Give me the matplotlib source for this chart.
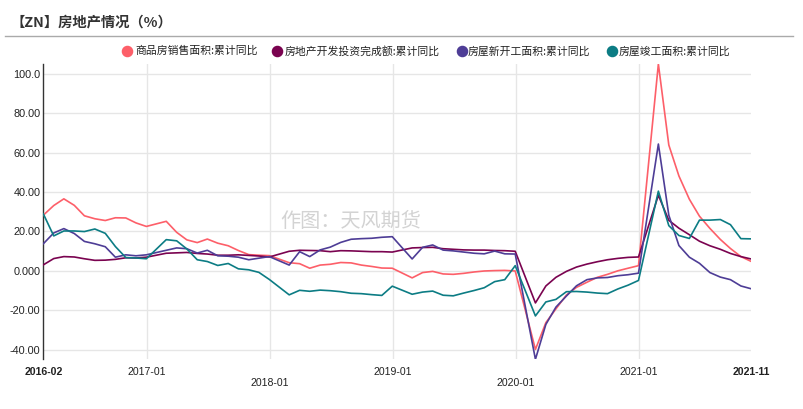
import matplotlib
matplotlib.use('Agg')
import matplotlib.pyplot as plt
import pandas as pd
from matplotlib.lines import Line2D

# ---------------- data ----------------
dates = [pd.Timestamp(y, m, 1) + pd.offsets.MonthEnd(0)
         for y in range(2016, 2022) for m in range(2, 13)
         if not (y == 2021 and m == 12)]

series_names = ['商品房销售面积:累计同比', '房地产开发投资完成额:累计同比',
                '房屋新开工面积:累计同比', '房屋竣工面积:累计同比']

sales = [28.2, 33.1, 36.5, 33.2, 27.9, 26.4, 25.5, 26.9, 26.8, 24.3, 22.5,
         25.1, 19.5, 15.7, 14.3, 16.1, 14.0, 12.7, 10.3, 8.2, 7.9, 7.7,
         4.1, 3.6, 1.3, 2.9, 3.3, 4.2, 4.0, 2.9, 2.2, 1.4, 1.3,
         -3.6, -0.9, -0.3, -1.6, -1.8, -1.3, -0.6, -0.1, 0.1, 0.2, -0.1,
         -39.9, -26.3, -19.3, -12.3, -8.4, -5.8, -3.3, -1.8, 0.0, 1.3, 2.6,
         104.9, 63.8, 48.1, 36.3, 27.7, 21.5, 15.9, 11.3, 7.2, 4.8]

invest = [3.0, 6.2, 7.2, 7.0, 6.1, 5.3, 5.4, 5.8, 6.6, 6.5, 6.9,
          8.9, 9.1, 9.3, 8.8, 8.5, 7.9, 7.9, 8.1, 7.8, 7.5, 7.0,
          9.9, 10.4, 10.3, 10.2, 9.7, 10.2, 10.1, 9.9, 9.7, 9.7, 9.5,
          11.6, 11.8, 11.9, 11.2, 10.9, 10.6, 10.5, 10.5, 10.3, 10.2, 9.9,
          -16.3, -7.7, -3.3, -0.3, 1.9, 3.4, 4.6, 5.6, 6.3, 6.8, 7.0,
          38.3, 25.6, 21.6, 18.3, 15.0, 12.7, 10.9, 8.8, 7.2, 6.0]

newstart = [13.7, 19.2, 21.4, 18.9, 14.9, 13.7, 12.2, 6.9, 8.1, 7.6, 8.1,
            10.4, 11.6, 11.2, 9.0, 10.4, 7.6, 7.4, 6.9, 5.6, 6.4, 7.2,
            2.9, 9.7, 7.2, 10.6, 12.0, 14.4, 16.0, 16.3, 16.5, 17.0, 17.3,
            6.0, 11.9, 13.1, 10.5, 10.1, 9.5, 8.9, 8.6, 10.0, 8.6, 8.5,
            -44.9, -27.2, -18.4, -12.8, -7.6, -4.5, -3.6, -3.4, -2.5, -2.0, -1.2,
            64.3, 28.2, 12.8, 6.9, 3.8, -0.9, -3.2, -4.5, -7.7, -9.1]

completion = [28.9, 17.7, 20.2, 20.2, 19.9, 21.2, 19.0, 12.3, 6.7, 6.5, 6.1,
              15.8, 15.2, 11.1, 5.6, 4.7, 2.7, 3.7, 1.0, 0.5, -0.8, -4.4,
              -12.2, -9.9, -10.4, -9.8, -10.1, -10.6, -11.4, -11.6, -12.1, -12.5, -7.8,
              -11.9, -10.8, -10.3, -12.4, -12.7, -11.3, -10.0, -8.6, -5.5, -4.5, 2.6,
              -22.9, -15.8, -14.5, -10.6, -10.5, -10.8, -11.3, -11.6, -9.2, -7.3, -4.9,
              40.4, 22.9, 17.9, 16.4, 25.7, 25.7, 26.0, 23.4, 16.3, 16.2]

y_ticks = [-40, -20, 0, 20, 40, 60, 80, 100]
y_tick_labels = ['-40.00', '-20.00', '0.000', '20.00', '40.00', '60.00', '80.00', '100.0']
year_ticks = [pd.Timestamp(y, 1, 1) for y in range(2017, 2022)]
year_labels = ['2017-01', '2018-01', '2019-01', '2020-01', '2021-01']
edge_labels = ['2016-02', '2021-11']

colors = ['#fd5f69', '#7a0350', '#4e3d96', '#0c7c84']
values = [sales, invest, newstart, completion]

# ---------------- figure ----------------
W, H = 804, 409
fig = plt.figure(figsize=(W / 100, H / 100), dpi=100)
fig.patch.set_facecolor('white')

left, right, top, bottom = 43.3, 751, 64, 359.3
ax = fig.add_axes([left / W, 1 - bottom / H, (right - left) / W, (bottom - top) / H])

num_font = ['Liberation Sans', 'DejaVu Sans']
cjk_font = ['Noto Sans CJK SC', 'DejaVu Sans']

for vals, c in zip(values, colors):
    ax.plot(dates, vals, color=c, lw=1.2, zorder=3, solid_joinstyle='round')

ax.set_xlim(dates[0], dates[-1])
ax.set_ylim(-44.9, 104.9)

for s in ['top', 'right', 'bottom']:
    ax.spines[s].set_visible(False)
ax.spines['left'].set_color('#333333')
ax.spines['left'].set_linewidth(1.0)

ax.set_yticks(y_ticks)
ax.set_yticklabels(y_tick_labels, fontfamily=num_font, fontsize=7.8, color='#222222')
ax.tick_params(axis='y', length=0, pad=2)
ax.yaxis.grid(True, color='#e6e6e6', lw=1, zorder=0)
ax.set_axisbelow(True)

for d in year_ticks:
    ax.axvline(d, color='#e6e6e6', lw=1, zorder=0.5)

xt = [dates[0]] + year_ticks + [dates[-1]]
xl = [edge_labels[0]] + year_labels + [edge_labels[1]]
ax.set_xticks(xt)
ax.set_xticklabels(xl, fontfamily=num_font, fontsize=7.6, color='#222222')
ax.tick_params(axis='x', length=0)
for i, t in enumerate(ax.xaxis.get_major_ticks()):
    if i in (0, len(xt) - 1):
        t.label1.set_fontweight('bold')
        t.set_pad(5.5)
    elif i % 2 == 0:
        t.set_pad(13.5)
    else:
        t.set_pad(5.5)

# title and separator
fig.text(11 / W, 1 - 22 / H, '【ZN】房地产情况（%）', fontfamily=cjk_font,
         fontsize=10.3, fontweight='bold', color='#333333', va='center', ha='left')
fig.add_artist(Line2D([5 / W, 793 / W], [1 - 35.5 / H, 1 - 35.5 / H],
                      transform=fig.transFigure, color='#aaaaaa', lw=1))

# legend
leg_pos = [(127, 135), (277, 285), (461.7, 468), (612.3, 619)]
for (cx, tx), name, c in zip(leg_pos, series_names, colors):
    fig.add_artist(Line2D([cx / W], [1 - 51 / H], transform=fig.transFigure,
                          marker='o', markersize=7.3, color=c, lw=0))
    fig.text(tx / W, 1 - 51 / H, name, fontfamily=cjk_font, fontsize=7.8,
             color='#222222', va='center', ha='left')

# watermark
fig.text(351 / W, 1 - 222 / H, '作图：天风期货', fontfamily=cjk_font, fontsize=14.5,
         color='#d3d3d3', va='center', ha='center', zorder=1)

fig.savefig('out.png', dpi=100, facecolor='white')
